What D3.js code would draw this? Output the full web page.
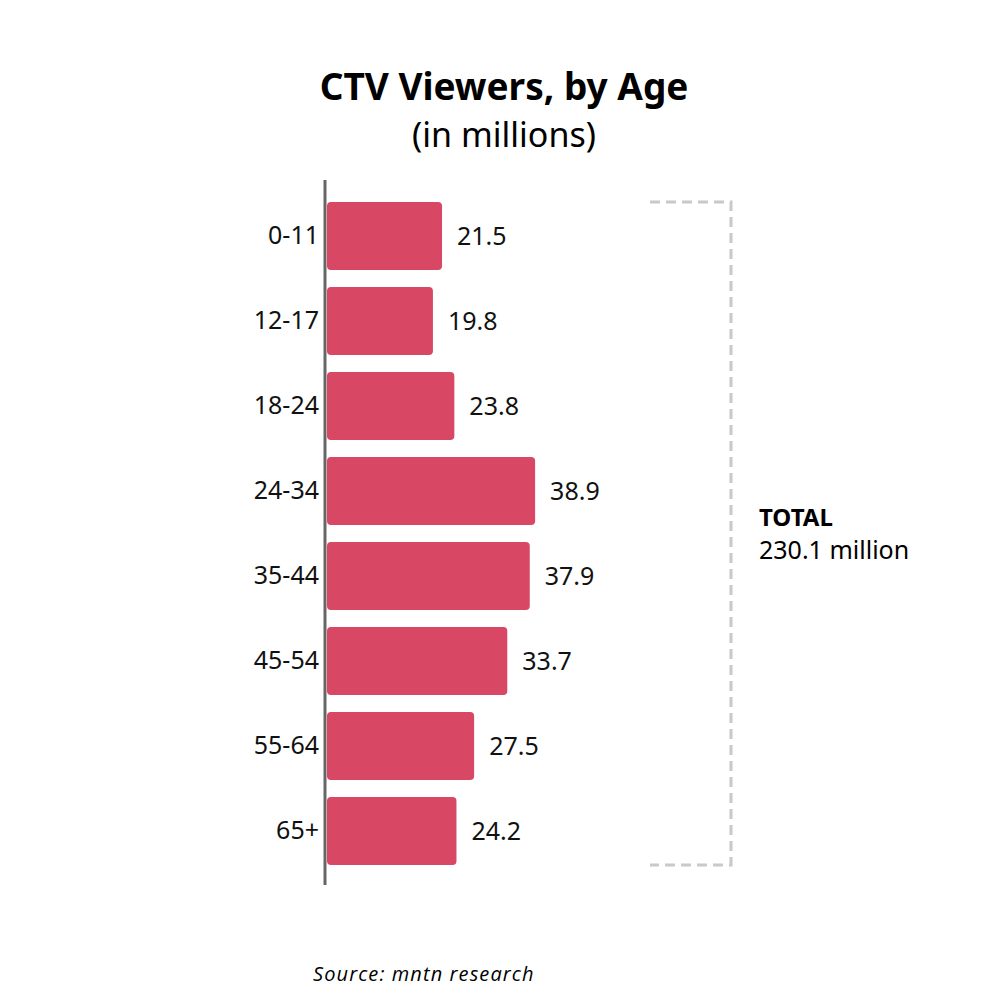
<!DOCTYPE html>
<html>
<head>
<meta charset="utf-8">
<script src="https://cdn.jsdelivr.net/npm/d3@7"></script>
<style>
  body { margin: 0; background: #fff; }
  text { font-family: "Noto Sans", "Open Sans", sans-serif; }
</style>
</head>
<body>
<div id="chart"></div>
<script>
// data
var ages = ["0-11", "12-17", "18-24", "24-34", "35-44", "45-54", "55-64", "65+"]
var viewers = [21.5, 19.8, 23.8, 38.9, 37.9, 33.7, 27.5, 24.2]
var totalLabel = ["TOTAL", "230.1 million"]

var width = 1002, height = 1008

var svg = d3.select("#chart")
    .append("svg")
    .attr("width", width)
    .attr("height", height)

// scales
var scale_y = d3.scaleBand()
    .domain(ages)
    .range([193.5, 873.5])
    .paddingInner(0.2)
    .paddingOuter(0.1)

var scale_x = d3.scaleLinear()
    .domain([0, 40])
    .range([327, 541])

var data = ages.map((a, i) => ({age: a, value: viewers[i]}))

// title
svg.append("text")
    .attr("x", 504).attr("y", 100)
    .attr("text-anchor", "middle")
    .style("font-size", "37px")
    .style("font-weight", "bold")
    .text("CTV Viewers, by Age")

svg.append("text")
    .attr("x", 504).attr("y", 147)
    .attr("text-anchor", "middle")
    .style("font-size", "34px")
    .text("(in millions)")

// bars
svg.selectAll(".bar")
    .data(data)
    .enter()
    .append("rect")
    .attr("class", "bar")
    .attr("x", scale_x(0))
    .attr("y", d => scale_y(d.age))
    .attr("width", d => scale_x(d.value) - scale_x(0))
    .attr("height", scale_y.bandwidth())
    .attr("rx", 4)
    .style("fill", "#d84865")

// axis line (left)
var axis = svg.append("g")
    .attr("transform", "translate(325,0)")
    .call(d3.axisLeft(scale_y).tickSize(0).tickPadding(6))
axis.select(".domain")
    .attr("d", "M0,180V885")
    .attr("stroke", "#666")
    .attr("stroke-width", 3)
axis.selectAll("text")
    .style("font-family", "'Noto Sans', sans-serif")
    .style("font-size", "25px")
    .style("fill", "#111")

// value labels
svg.selectAll(".val")
    .data(data)
    .enter()
    .append("text")
    .attr("class", "val")
    .attr("x", d => scale_x(d.value) + 15)
    .attr("y", d => scale_y(d.age) + scale_y.bandwidth() / 2)
    .attr("dy", "0.35em")
    .style("font-size", "25px")
    .style("fill", "#111")
    .text(d => d.value.toFixed(1))

// dashed bracket round all bars
var brTop = scale_y(ages[0]), brBot = scale_y(ages[ages.length - 1]) + scale_y.bandwidth()
svg.append("path")
    .attr("d", "M650," + brTop + "H731V" + brBot + "H650")
    .attr("fill", "none")
    .attr("stroke", "#c8c8ce")
    .attr("stroke-width", 3)
    .attr("stroke-dasharray", "10,6")

svg.append("text")
    .attr("x", 759).attr("y", 526)
    .style("font-size", "24px")
    .style("font-weight", "bold")
    .text(totalLabel[0])

svg.append("text")
    .attr("x", 759).attr("y", 559)
    .style("font-size", "25px")
    .text(totalLabel[1])

// source
svg.append("text")
    .attr("x", 313).attr("y", 981)
    .style("font-family", "'Open Sans', sans-serif")
    .style("font-style", "italic")
    .style("font-size", "20px")
    .style("letter-spacing", "1.1px")
    .text("Source: mntn research")
</script>
</body>
</html>
